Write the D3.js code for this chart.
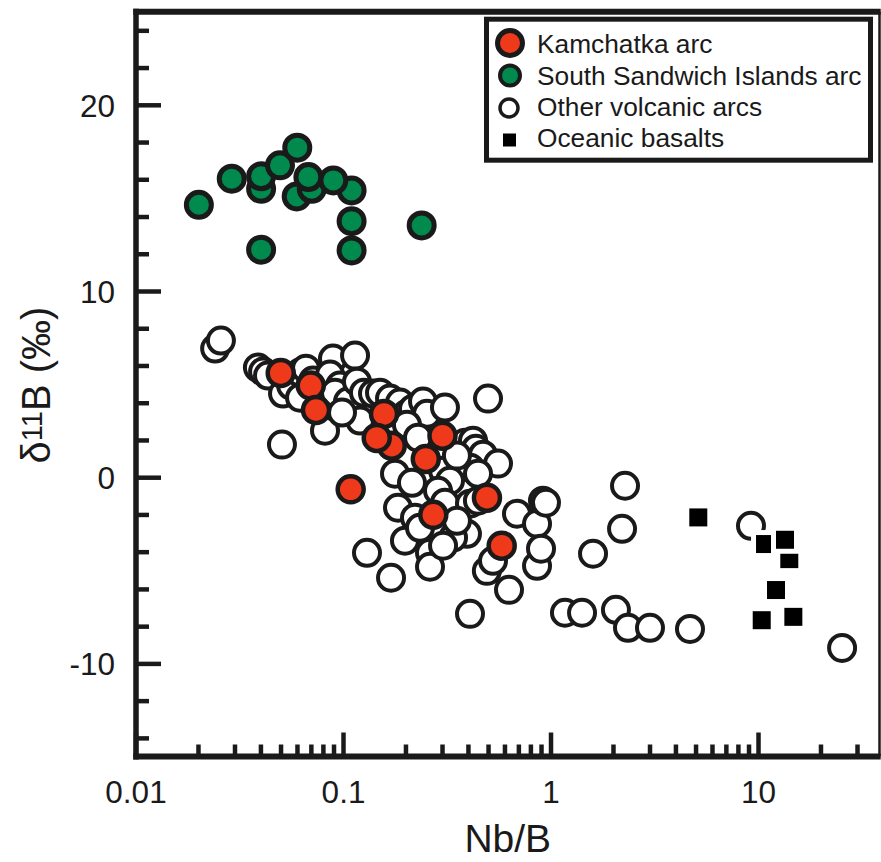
<!doctype html>
<html lang="en">
  <head>
    <meta charset="utf-8">
    <title>d11B vs Nb/B</title>
    <script src="https://d3js.org/d3.v7.min.js"></script>
    <style>
      body { margin: 0; background: #fff; }
      svg { display: block; font-family: "Liberation Sans", Arial, Helvetica, sans-serif; }
    </style>
  </head>
  <body>
    <div id="chart"></div>
    <script>

      // Kamchatka arc
      const kamNbB = [0.0501, 0.0699, 0.0741, 0.1576, 0.1717, 0.1454, 0.3016, 0.2506, 0.1089, 0.494, 0.2723, 0.5818];
      const kamD11B = [5.60, 4.92, 3.61, 3.40, 1.69, 2.11, 2.23, 0.98, -0.65, -1.10, -2.02, -3.68];

      // South Sandwich Islands arc
      const ssiNbB = [0.0202, 0.0291, 0.0403, 0.0403, 0.0497, 0.0602, 0.0598, 0.0707, 0.0681, 0.110, 0.0898, 0.110, 0.110, 0.0403, 0.2394];
      const ssiD11B = [14.63, 16.03, 15.49, 16.16, 16.75, 17.70, 15.08, 15.49, 16.12, 15.40, 15.94, 13.75, 12.18, 12.22, 13.52];

      // Other volcanic arcs
      const otherNbB = [0.0242, 0.0258, 0.0389, 0.0412, 0.0435, 0.0514, 0.0562, 0.0621, 0.0663, 0.0717,
        0.0775, 0.0819, 0.0508, 0.0895, 0.1143, 0.0866, 0.0967, 0.0915, 0.1057, 0.1168,
        0.1262, 0.1395, 0.1208, 0.0989, 0.1508, 0.1685, 0.1882, 0.2033, 0.2175, 0.243,
        0.254, 0.310, 0.4998, 0.3872, 0.4232, 0.4372, 0.4728, 0.5585, 0.4093, 0.4473,
        0.3035, 0.3278, 0.1781, 0.215, 0.287, 0.1841, 0.2223, 0.310, 0.4093, 0.447,
        0.3958, 0.1989, 0.2626, 0.1305, 0.1704, 0.2626, 0.339, 0.3035, 0.4935, 0.5284,
        0.631, 0.6894, 0.861, 0.920, 0.861, 0.90, 0.951, 2.286, 2.212, 1.603,
        0.4093, 1.174, 1.419, 2.067, 2.363, 3.016, 4.701, 9.25, 25.42, 0.2033,
        0.2299, 0.354, 0.354, 0.235, 0.0621];
      const otherD11B = [6.91, 7.34, 5.89, 5.67, 5.46, 4.49, 4.92, 5.62, 5.83, 5.19,
        4.22, 2.50, 1.75, 6.37, 6.53, 5.51, 4.92, 4.54, 4.06, 5.13,
        4.54, 4.49, 3.04, 3.47, 4.54, 4.22, 4.01, 3.41, 3.68, 4.06,
        3.41, 3.74, 4.22, 1.85, 1.96, 1.53, 1.21, 0.73, 0.51, 0.19,
        0.35, -0.19, 0.19, -0.30, -0.73, -1.64, -2.18, -1.37, -1.42, -1.26,
        -3.04, -3.41, -4.06, -4.06, -5.40, -4.81, -3.25, -3.68, -5.03, -4.49,
        -6.05, -1.96, -2.50, -1.26, -4.76, -3.84, -1.37, -0.46, -2.77, -4.11,
        -7.34, -7.28, -7.28, -7.12, -8.09, -8.09, -8.15, -2.61, -9.17, 2.82,
        2.12, 1.16, -2.34, -2.72, 4.27];

      // Oceanic basalts
      const obNbB = [10.81, 14.15, 13.49, 5.155, 12.21, 10.42, 14.80];
      const obD11B = [-3.59, -4.40, -3.36, -2.16, -6.06, -7.68, -7.50];

      const xMajor = [0.01, 0.1, 1, 10];
      const xLabels = ["0.01", "0.1", "1", "10"];
      const yMajor = [-10, 0, 10, 20];
      const yLabels = ["-10", "0", "10", "20"];

      const legendNames = ["Kamchatka arc", "South Sandwich Islands arc", "Other volcanic arcs", "Oceanic basalts"];

      const ink = "#1a1a1a";
      const red = "#ee3a1b";
      const green = "#008a4e";

      const width = 881, height = 862;
      const pLeft = 136, pRight = 879.5, pTop = 11.7, pBottom = 756.5;

      const svg = d3.select("#chart")
        .append("svg")
          .attr("width", width)
          .attr("height", height);

      const x = d3.scaleLog().domain([0.01, 38.5]).range([135.5, pRight]);
      const y = d3.scaleLinear().domain([-15, 25]).range([pBottom, pTop]);

      // minor ticks
      const xMinor = x.ticks().filter(d => !xMajor.some(m => Math.abs(m - d) / m < 1e-6));
      const yMinor = d3.range(-14, 25, 2).filter(d => !yMajor.includes(d));

      function styleAxis(g, fs) {
        g.select(".domain").remove();
        g.selectAll(".tick line").attr("stroke", ink).attr("stroke-width", 4.5);
        g.selectAll(".tick text").attr("fill", ink).style("font-size", fs + "px");
      }

      // X axis
      const gx = svg.append("g").attr("transform", `translate(0,${pBottom})`);
      gx.append("g")
        .call(d3.axisBottom(x).tickValues(xMinor).tickSize(-12).tickFormat(""))
        .call(g => styleAxis(g, 31.5));
      gx.append("g")
        .call(d3.axisBottom(x).tickValues(xMajor).tickSize(-24).tickPadding(24).tickFormat((d, i) => xLabels[i]))
        .call(g => styleAxis(g, 31.5));

      // Y axis
      const gy = svg.append("g").attr("transform", `translate(${pLeft},0)`);
      gy.append("g")
        .call(d3.axisLeft(y).tickValues(yMinor).tickSize(-13).tickFormat(""))
        .call(g => styleAxis(g, 31.5));
      gy.append("g")
        .call(d3.axisLeft(y).tickValues(yMajor).tickSize(-25).tickPadding(21).tickFormat((d, i) => yLabels[i]))
        .call(g => styleAxis(g, 31.5));
      gy.selectAll(".tick text").attr("dy", "0.36em");

      // frame
      svg.append("line").attr("x1", pLeft).attr("x2", pLeft).attr("y1", pTop - 3).attr("y2", pBottom + 3)
        .attr("stroke", ink).attr("stroke-width", 5.5);
      svg.append("line").attr("x1", pLeft - 2.7).attr("x2", pRight + 1.2).attr("y1", pBottom).attr("y2", pBottom)
        .attr("stroke", ink).attr("stroke-width", 6);
      svg.append("line").attr("x1", pLeft - 2.7).attr("x2", pRight + 1.2).attr("y1", pTop).attr("y2", pTop)
        .attr("stroke", ink).attr("stroke-width", 6);
      svg.append("line").attr("x1", pRight).attr("x2", pRight).attr("y1", pTop).attr("y2", pBottom)
        .attr("stroke", ink).attr("stroke-width", 2.5);

      // other arcs
      svg.append("g").selectAll("circle")
        .data(otherNbB.map((v, i) => [v, otherD11B[i]]))
        .join("circle")
          .attr("cx", d => x(d[0]))
          .attr("cy", d => y(d[1]))
          .attr("r", 13)
          .attr("fill", "#fff")
          .attr("stroke", ink)
          .attr("stroke-width", 4);

      // Kamchatka
      svg.append("g").selectAll("circle")
        .data(kamNbB.map((v, i) => [v, kamD11B[i]]))
        .join("circle")
          .attr("cx", d => x(d[0]))
          .attr("cy", d => y(d[1]))
          .attr("r", 13)
          .attr("fill", red)
          .attr("stroke", ink)
          .attr("stroke-width", 4.5);

      // South Sandwich
      svg.append("g").selectAll("circle")
        .data(ssiNbB.map((v, i) => [v, ssiD11B[i]]))
        .join("circle")
          .attr("cx", d => x(d[0]))
          .attr("cy", d => y(d[1]))
          .attr("r", 12.5)
          .attr("fill", green)
          .attr("stroke", ink)
          .attr("stroke-width", 5);

      // oceanic basalts
      const sq = 23;
      svg.append("g").selectAll("rect")
        .data(obNbB.map((v, i) => [v, obD11B[i]]))
        .join("rect")
          .attr("x", d => x(d[0]) - sq / 2)
          .attr("y", d => y(d[1]) - sq / 2)
          .attr("width", sq)
          .attr("height", sq)
          .attr("fill", "#000")
          .attr("stroke", "#fff")
          .attr("stroke-width", 5);

      // axis titles
      svg.append("text")
        .attr("x", (pLeft + pRight) / 2)
        .attr("y", 852)
        .attr("text-anchor", "middle")
        .attr("fill", ink)
        .style("font-size", "39px")
        .text("Nb/B");

      const yt = svg.append("text")
        .attr("transform", "translate(50,385) rotate(-90)")
        .attr("text-anchor", "middle")
        .attr("fill", ink)
        .style("font-size", "40px");
      yt.append("tspan").text("δ");
      yt.append("tspan").style("font-size", "29px").attr("dy", -8).text("11");
      yt.append("tspan").attr("dy", 8).text("B (‰)");

      // legend
      const lg = svg.append("g");
      lg.append("rect")
        .attr("x", 486.5).attr("y", 19.2)
        .attr("width", 384).attr("height", 141)
        .attr("fill", "#fff")
        .attr("stroke", ink)
        .attr("stroke-width", 5);

      const rowY = [43, 75.5, 108, 140];
      lg.append("circle").attr("cx", 510).attr("cy", rowY[0]).attr("r", 12.5)
        .attr("fill", red).attr("stroke", ink).attr("stroke-width", 5);
      lg.append("circle").attr("cx", 510).attr("cy", rowY[1]).attr("r", 10)
        .attr("fill", green).attr("stroke", ink).attr("stroke-width", 4);
      lg.append("circle").attr("cx", 509).attr("cy", rowY[2]).attr("r", 9)
        .attr("fill", "#fff").attr("stroke", ink).attr("stroke-width", 3.5);
      lg.append("rect").attr("x", 503).attr("y", rowY[3] - 6.5).attr("width", 13).attr("height", 13)
        .attr("fill", "#000");

      lg.selectAll("text.lab")
        .data(legendNames)
        .join("text")
          .attr("class", "lab")
          .attr("x", 537)
          .attr("y", (d, i) => [53, 85, 116, 147][i])
          .attr("fill", ink)
          .style("font-size", "26.3px")
          .text(d => d);

    </script>
  </body>
</html>
